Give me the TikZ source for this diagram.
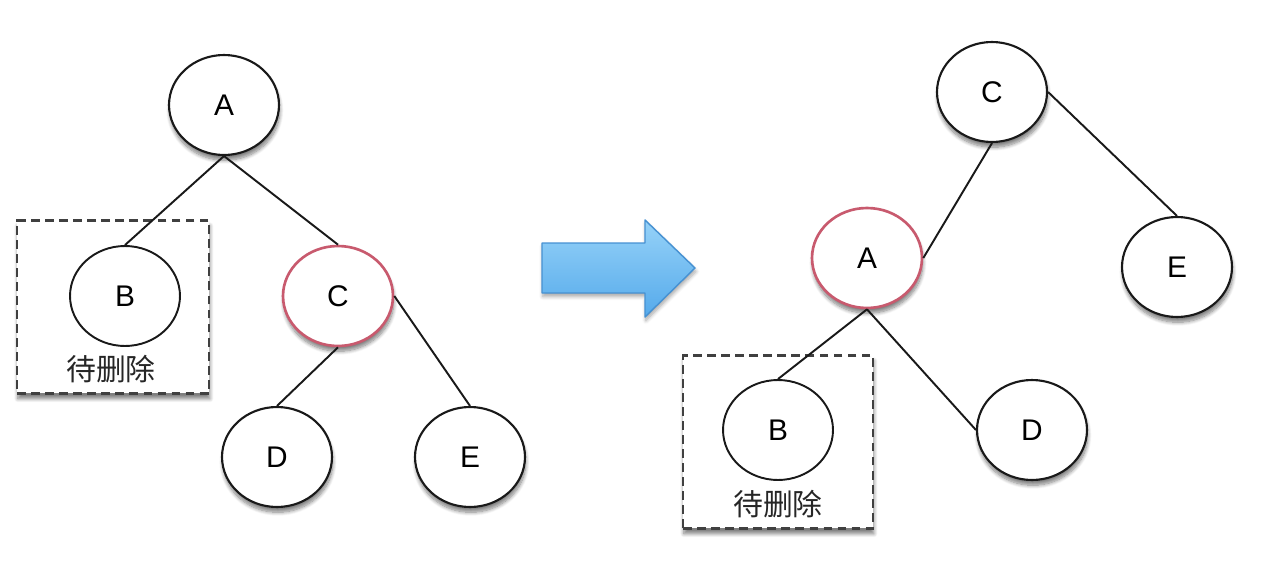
\documentclass[tikz,border=0pt]{standalone}
\usepackage{fontspec}
\setmainfont{Liberation Sans}
\newfontfamily\cjk{Noto Sans CJK SC}
\usetikzlibrary{shapes.geometric,shadows.blur}
\definecolor{pinkline}{RGB}{200,90,110}
\definecolor{arrowtop}{RGB}{150,210,248}
\definecolor{arrowbot}{RGB}{85,170,235}
\definecolor{arrowedge}{RGB}{70,145,210}

\begin{document}
\begin{tikzpicture}[x=0.02cm,y=-0.02cm,
  shade/.style={blur shadow={shadow xshift=0.5pt,shadow yshift=-3pt,shadow opacity=50,shadow blur steps=8}},
  tnode/.style={ellipse,draw=black!90,line width=1.2pt,fill=white,minimum width=2.2cm,minimum height=2cm,inner sep=0pt,font=\fontsize{17}{17}\selectfont,shade},
  plain/.style={ellipse,draw=black!90,line width=1.1pt,fill=white,minimum width=2.2cm,minimum height=2cm,inner sep=0pt,font=\fontsize{17}{17}\selectfont},
  hot/.style={draw=pinkline,line width=1.5pt},
  delbox/.style={draw=black!75,line width=1.4pt,dash pattern=on 5pt off 3pt,minimum width=3.84cm,minimum height=3.46cm,fill=white,shade},
  tag/.style={font=\cjk\fontsize{17}{17}\selectfont,text=black!85},
  edge/.style={draw=black!90,line width=1.1pt}]
\useasboundingbox (0,0) rectangle (1280,584);

% before
\node[delbox] (lbox) at (113,307) {};
\node[tag] (ltag) at (111,369) {待删除};
\node[tnode] (lA) at (224,105) {A};
\node[plain] (lB) at (125,296) {B};
\node[tnode,hot] (lC) at (338,296) {C};
\node[tnode] (lD) at (277,457) {D};
\node[tnode] (lE) at (470,457) {E};
\draw[edge] (lA.south) -- (lB.north);
\draw[edge] (lA.south) -- (lC.north);
\draw[edge] (lC.south) -- (lD.north);
\draw[edge] (lC.east) -- (lE.north);

% arrow
\draw[arrowedge,line width=0.8pt,top color=arrowtop,bottom color=arrowbot,line join=round,
  blur shadow={shadow xshift=0.5pt,shadow yshift=-2pt,shadow opacity=35,shadow blur steps=6}]
  (542,243) -- (645,243) -- (645,220) -- (695,268) -- (645,317) -- (645,293) -- (542,293) -- cycle;

% after
\node[delbox,minimum width=3.8cm] (rbox) at (778,442) {};
\node[tag] (rtag) at (778,504) {待删除};
\node[tnode] (rC) at (992,92) {C};
\node[tnode,hot] (rA) at (867,258) {A};
\node[tnode] (rE) at (1177,267) {E};
\node[plain] (rB) at (778,430) {B};
\node[tnode] (rD) at (1032,430) {D};
\draw[edge] (rC.south) -- (rA.east);
\draw[edge] (rC.east) -- (rE.north);
\draw[edge] (rA.south) -- (rB.north);
\draw[edge] (rA.south) -- (rD.west);
\end{tikzpicture}
\end{document}
